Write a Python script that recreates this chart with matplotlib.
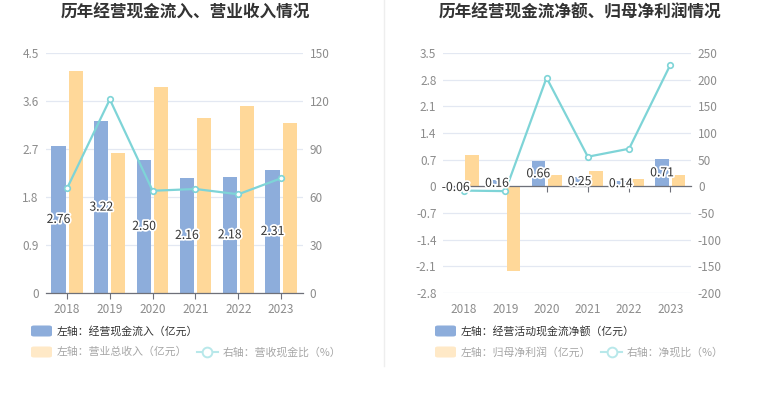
import matplotlib
matplotlib.use('Agg')
import matplotlib.pyplot as plt
import matplotlib.patheffects as pe
from matplotlib.patches import FancyBboxPatch
from matplotlib.lines import Line2D
import numpy as np

plt.rcParams['font.family'] = ['Noto Sans CJK SC', 'DejaVu Sans']
plt.rcParams['axes.unicode_minus'] = False

# --- data ---
years = ['2018', '2019', '2020', '2021', '2022', '2023']

# left chart
cash_in = [2.76, 3.22, 2.50, 2.16, 2.18, 2.31]          # 经营现金流入 (亿元)
revenue = [4.16, 2.63, 3.86, 3.28, 3.51, 3.19]          # 营业总收入 (亿元)
cash_rev_ratio = [65.4, 121.0, 63.9, 65.0, 61.7, 71.7]  # 营收现金比 (%)
left_ticks = [0, 0.9, 1.8, 2.7, 3.6, 4.5]
left_ticks_r = [0, 30, 60, 90, 120, 150]

# right chart
net_cash = [-0.06, 0.16, 0.66, 0.25, 0.14, 0.71]        # 经营活动现金流净额 (亿元)
net_profit = [0.83, -2.22, 0.30, 0.41, 0.18, 0.29]      # 归母净利润 (亿元)
net_ratio = [-8.0, -9.0, 203.6, 55.5, 70.5, 228.0]      # 净现比 (%)
right_ticks = [-2.8, -2.1, -1.4, -0.7, 0, 0.7, 1.4, 2.1, 2.8, 3.5]
right_ticks_r = [-200, -150, -100, -50, 0, 50, 100, 150, 200, 250]

BLUE = '#8DADDB'
YELLOW = '#FFD899'
CYAN = '#7ED4D7'
GRID = '#E3E8F2'
TICK = '#8C8C8C'
AXIS = '#6E7079'

W, H = 765, 393
fig = plt.figure(figsize=(W / 100, H / 100), dpi=100)
fig.patch.set_facecolor('white')


def fx(px):
    return px / W


def fy(py):
    return 1 - py / H


def fmt(v):
    return '0' if v == 0 else f'{v:g}'


def draw_panel(rect, bars1, bars2, ratio, yt, yt_r, zero_axis):
    ax = fig.add_axes(rect)
    x = np.arange(len(years))
    bw = 0.33
    ax.bar(x - 0.2, bars1, bw, color=BLUE, zorder=2)
    ax.bar(x + 0.2, bars2, bw, color=YELLOW, zorder=2)
    ax.set_xlim(-0.5, len(years) - 0.5)
    ax.set_ylim(yt[0], yt[-1])
    ax.set_yticks(yt)
    ax.set_yticklabels([fmt(v) for v in yt])
    ax.yaxis.grid(True, color=GRID, lw=0.9)
    ax.set_axisbelow(True)
    for s in ['top', 'right', 'left']:
        ax.spines[s].set_visible(False)
    ax.spines['bottom'].set_color(AXIS)
    ax.spines['bottom'].set_linewidth(0.9)
    ax.tick_params(axis='y', length=0, labelsize=8.5, colors=TICK, pad=5)
    ax.set_xticks(x)
    ax.tick_params(axis='x', length=4, width=0.8, color=AXIS, direction='out')
    if zero_axis:
        ax.spines['bottom'].set_position(('data', 0))
        ax.set_xticklabels([])
        sec = ax.secondary_xaxis(0)
        sec.set_xticks(x)
        sec.set_xticklabels(years)
        sec.spines['bottom'].set_visible(False)
        sec.tick_params(length=0, labelsize=8.5, colors=TICK, pad=7)
    else:
        ax.set_xticklabels(years)
        ax.tick_params(axis='x', labelsize=8.5, labelcolor=TICK, pad=3)

    ax2 = ax.twinx()
    ax2.set_ylim(yt_r[0], yt_r[-1])
    ax2.set_yticks(yt_r)
    ax2.set_yticklabels([fmt(v) for v in yt_r])
    for s in ax2.spines.values():
        s.set_visible(False)
    ax2.tick_params(axis='y', length=0, labelsize=8.5, colors=TICK, pad=5)
    ax2.plot(x, ratio, color=CYAN, lw=1.6, marker='o', ms=4,
             mfc='white', mec=CYAN, mew=1.2, zorder=3)

    for xi, v in zip(x, bars1):
        ax2.text(xi - 0.2, v / 2, f'{v:.2f}', transform=ax.transData,
                 ha='center', va='center', fontsize=8.8, color='#333333',
                 zorder=5,
                 path_effects=[pe.withStroke(linewidth=2.5, foreground='white')])
    return ax


# axes rects (from pixel layout)
top_px, bot_px = 53, 293
ax_h = (bot_px - top_px) / H
ax_b = fy(bot_px)
draw_panel([fx(45.6), ax_b, fx(302.5 - 45.6), ax_h],
           cash_in, revenue, cash_rev_ratio, left_ticks, left_ticks_r, False)
draw_panel([fx(443.4), ax_b, fx(691 - 443.4), ax_h],
           net_cash, net_profit, net_ratio, right_ticks, right_ticks_r, True)

# titles
fig.text(fx(185), fy(13), '历年经营现金流入、营业收入情况', ha='center', va='center',
         fontsize=12, fontweight='bold', color='#333333')
fig.text(fx(580), fy(13), '历年经营现金流净额、归母净利润情况', ha='center', va='center',
         fontsize=12, fontweight='bold', color='#333333')

# separator
fig.add_artist(Line2D([fx(384), fx(384)], [fy(0), fy(366)], color='#EEEEEE', lw=1))


def legend_box(x0, yc, color, label, tcolor):
    fig.add_artist(FancyBboxPatch((fx(x0), fy(yc + 5.5)), fx(21), 11 / H,
                                  boxstyle='round,pad=0,rounding_size=0.004',
                                  fc=color, ec='none'))
    fig.text(fx(x0 + 26), fy(yc), label, ha='left', va='center',
             fontsize=7.8, color=tcolor)


def legend_line(x0, yc, label, tcolor):
    fig.add_artist(Line2D([fx(x0), fx(x0 + 21)], [fy(yc), fy(yc)],
                          color='#B8E8EA', lw=1.5))
    fig.add_artist(Line2D([fx(x0 + 10.5)], [fy(yc)], marker='o', ms=7,
                          mfc='white', mec='#B8E8EA', mew=1.4))
    fig.text(fx(x0 + 26), fy(yc), label, ha='left', va='center',
             fontsize=7.8, color=tcolor)


legend_box(31, 331, BLUE, '左轴：经营现金流入（亿元）', '#333333')
legend_box(31, 352, '#FFE9C7', '左轴：营业总收入（亿元）', '#A6A6A6')
legend_line(197, 352, '右轴：营收现金比（%）', '#A6A6A6')

legend_box(435, 331, BLUE, '左轴：经营活动现金流净额（亿元）', '#333333')
legend_box(435, 352, '#FFE9C7', '左轴：归母净利润（亿元）', '#A6A6A6')
legend_line(601, 352, '右轴：净现比（%）', '#A6A6A6')

fig.savefig('out.png', dpi=100)
